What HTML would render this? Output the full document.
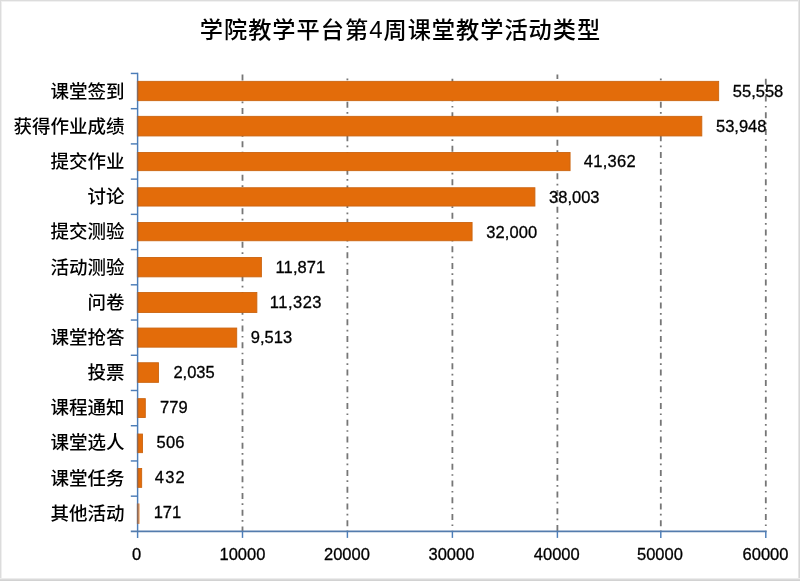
<!DOCTYPE html>
<html lang="zh-CN"><head><meta charset="utf-8"><title>学院教学平台第4周课堂教学活动类型</title>
<style>html,body{margin:0;padding:0;background:#fff}body{width:800px;height:581px;overflow:hidden}svg{display:block}.c{font-family:"Liberation Sans", "Noto Sans CJK SC", sans-serif;font-size:18.5px;font-weight:500;fill:#000}.n{font-family:"Liberation Sans", sans-serif;font-size:16.5px;fill:#000;stroke:#000;stroke-width:0.3px}.t{font-family:"Liberation Sans", "Noto Sans CJK SC", sans-serif;font-size:23.2px;font-weight:500;letter-spacing:1px;fill:#000}</style></head><body>
<svg width="800" height="581" viewBox="0 0 800 581">
<rect x="0" y="0" width="800" height="581" fill="#fff"/>
<rect x="0" y="0" width="800" height="1" fill="#dcdcdc"/>
<rect x="0" y="1" width="800" height="1" fill="#f1f1f1"/>
<rect x="0" y="0" width="1" height="581" fill="#dcdcdc"/>
<rect x="1" y="1" width="1" height="580" fill="#efefef"/>
<rect x="798" y="0" width="1" height="581" fill="#e6e6e6"/>
<rect x="799" y="0" width="1" height="581" fill="#d6d6d6"/>
<rect x="0" y="578" width="800" height="1" fill="#ececec"/>
<rect x="0" y="579" width="800" height="1" fill="#dadada"/>
<rect x="0" y="580" width="800" height="1" fill="#d2d2d2"/>
<line x1="242.5" y1="74.5" x2="242.5" y2="531.4" stroke="#767676" stroke-width="1.8" stroke-dasharray="6 4.4 1.7 4.64" stroke-dashoffset="0.1"/>
<line x1="347.4" y1="74.5" x2="347.4" y2="531.4" stroke="#767676" stroke-width="1.8" stroke-dasharray="6 4.4 1.7 4.64" stroke-dashoffset="6.3"/>
<line x1="452.4" y1="74.5" x2="452.4" y2="531.4" stroke="#767676" stroke-width="1.8" stroke-dasharray="6 4.4 1.7 4.64" stroke-dashoffset="12.5"/>
<line x1="557.4" y1="74.5" x2="557.4" y2="531.4" stroke="#767676" stroke-width="1.8" stroke-dasharray="6 4.4 1.7 4.64" stroke-dashoffset="1.6"/>
<line x1="660.8" y1="74.5" x2="660.8" y2="531.4" stroke="#767676" stroke-width="1.8" stroke-dasharray="6 4.4 1.7 4.64" stroke-dashoffset="6.3"/>
<line x1="765.8" y1="74.5" x2="765.8" y2="531.4" stroke="#767676" stroke-width="1.8" stroke-dasharray="6 4.4 1.7 4.64" stroke-dashoffset="12.5"/>
<g stroke="#4c7db8" stroke-width="1.45" fill="none">
<line x1="137.6" y1="72.75" x2="137.6" y2="537.9"/>
<line x1="130.8" y1="531.4" x2="766.6" y2="531.4" stroke="#547cad" stroke-width="1.8"/>
<line x1="130.8" y1="73.45" x2="137.6" y2="73.45"/>
<line x1="130.8" y1="108.68" x2="137.6" y2="108.68"/>
<line x1="130.8" y1="143.9" x2="137.6" y2="143.9"/>
<line x1="130.8" y1="179.13" x2="137.6" y2="179.13"/>
<line x1="130.8" y1="214.36" x2="137.6" y2="214.36"/>
<line x1="130.8" y1="249.58" x2="137.6" y2="249.58"/>
<line x1="130.8" y1="284.81" x2="137.6" y2="284.81"/>
<line x1="130.8" y1="320.04" x2="137.6" y2="320.04"/>
<line x1="130.8" y1="355.27" x2="137.6" y2="355.27"/>
<line x1="130.8" y1="390.49" x2="137.6" y2="390.49"/>
<line x1="130.8" y1="425.72" x2="137.6" y2="425.72"/>
<line x1="130.8" y1="460.95" x2="137.6" y2="460.95"/>
<line x1="130.8" y1="496.17" x2="137.6" y2="496.17"/>
<line x1="242.5" y1="531.4" x2="242.5" y2="537.9"/>
<line x1="347.4" y1="531.4" x2="347.4" y2="537.9"/>
<line x1="452.4" y1="531.4" x2="452.4" y2="537.9"/>
<line x1="557.4" y1="531.4" x2="557.4" y2="537.9"/>
<line x1="660.8" y1="531.4" x2="660.8" y2="537.9"/>
<line x1="765.8" y1="531.4" x2="765.8" y2="537.9"/>
</g>
<rect x="136.9" y="80.9" width="1.7" height="20.2" fill="#8a6a5c"/>
<rect x="138.6" y="81.35" width="580.06" height="19.3" fill="#e36c0a" stroke="#cb6410" stroke-width="0.9"/>
<rect x="136.9" y="115.9" width="1.7" height="20.5" fill="#8a6a5c"/>
<rect x="138.6" y="116.35" width="563.21" height="19.6" fill="#e36c0a" stroke="#cb6410" stroke-width="0.9"/>
<rect x="136.9" y="152" width="1.7" height="19.1" fill="#8a6a5c"/>
<rect x="138.6" y="152.45" width="431.47" height="18.2" fill="#e36c0a" stroke="#cb6410" stroke-width="0.9"/>
<rect x="136.9" y="187.3" width="1.7" height="19.2" fill="#8a6a5c"/>
<rect x="138.6" y="187.75" width="396.31" height="18.3" fill="#e36c0a" stroke="#cb6410" stroke-width="0.9"/>
<rect x="136.9" y="222" width="1.7" height="19.2" fill="#8a6a5c"/>
<rect x="138.6" y="222.45" width="333.48" height="18.3" fill="#e36c0a" stroke="#cb6410" stroke-width="0.9"/>
<rect x="136.9" y="257" width="1.7" height="20.3" fill="#8a6a5c"/>
<rect x="138.6" y="257.45" width="122.8" height="19.4" fill="#e36c0a" stroke="#cb6410" stroke-width="0.9"/>
<rect x="136.9" y="292.1" width="1.7" height="20.8" fill="#8a6a5c"/>
<rect x="138.6" y="292.55" width="118.26" height="19.9" fill="#e36c0a" stroke="#cb6410" stroke-width="0.9"/>
<rect x="136.9" y="327.6" width="1.7" height="20" fill="#8a6a5c"/>
<rect x="138.6" y="328.05" width="98.12" height="19.1" fill="#e36c0a" stroke="#cb6410" stroke-width="0.9"/>
<rect x="136.9" y="362.3" width="1.7" height="20.5" fill="#8a6a5c"/>
<rect x="138.6" y="362.75" width="19.85" height="19.6" fill="#e36c0a" stroke="#cb6410" stroke-width="0.9"/>
<rect x="136.9" y="398.2" width="1.7" height="19.8" fill="#8a6a5c"/>
<rect x="138.6" y="398.65" width="6.7" height="18.9" fill="#e36c0a" stroke="#cb6410" stroke-width="0.9"/>
<rect x="136.9" y="433.6" width="1.7" height="19.5" fill="#8a6a5c"/>
<rect x="138.6" y="434.05" width="3.85" height="18.6" fill="#e36c0a" stroke="#cb6410" stroke-width="0.9"/>
<rect x="136.9" y="468.1" width="1.7" height="19.7" fill="#8a6a5c"/>
<rect x="138.6" y="468.55" width="3.07" height="18.8" fill="#e36c0a" stroke="#cb6410" stroke-width="0.9"/>
<rect x="136.9" y="503.5" width="1.7" height="20.4" fill="#8a6a5c"/>
<rect x="138.6" y="503.5" width="0.79" height="20.4" fill="#e36c0a"/>
<text class="t" x="400.5" y="37.9" text-anchor="middle">学院教学平台第<tspan font-size="24" font-weight="400">4</tspan>周课堂教学活动类型</text>
<text class="c" x="124.6" y="97.7" text-anchor="end">课堂签到</text>
<text class="c" x="124.6" y="132.87" text-anchor="end">获得作业成绩</text>
<text class="c" x="124.6" y="168.03" text-anchor="end">提交作业</text>
<text class="c" x="124.6" y="203.2" text-anchor="end">讨论</text>
<text class="c" x="124.6" y="238.37" text-anchor="end">提交测验</text>
<text class="c" x="124.6" y="273.54" text-anchor="end">活动测验</text>
<text class="c" x="124.6" y="308.7" text-anchor="end">问卷</text>
<text class="c" x="124.6" y="343.87" text-anchor="end">课堂抢答</text>
<text class="c" x="124.6" y="379.04" text-anchor="end">投票</text>
<text class="c" x="124.6" y="414.2" text-anchor="end">课程通知</text>
<text class="c" x="124.6" y="449.37" text-anchor="end">课堂选人</text>
<text class="c" x="124.6" y="484.54" text-anchor="end">课堂任务</text>
<text class="c" x="124.6" y="519.7" text-anchor="end">其他活动</text>
<text class="n" x="732.81" y="97.3">55,558</text>
<text class="n" x="715.96" y="132.39">53,948</text>
<text class="n" x="583.72" y="167.48" letter-spacing="0.3">41,362</text>
<text class="n" x="549.06" y="202.57">38,003</text>
<text class="n" x="486.23" y="237.66" letter-spacing="0.1">32,000</text>
<text class="n" x="275.55" y="272.75" letter-spacing="0.1">11,871</text>
<text class="n" x="269.81" y="307.84" letter-spacing="0.5">11,323</text>
<text class="n" x="250.87" y="342.93">9,513</text>
<text class="n" x="173.4" y="378.02">2,035</text>
<text class="n" x="160.05" y="413.11">779</text>
<text class="n" x="156.6" y="448.2" letter-spacing="0.2">506</text>
<text class="n" x="154.82" y="483.29" letter-spacing="1.2">432</text>
<text class="n" x="153.69" y="518.38">171</text>
<text class="n" x="136.7" y="559.8" text-anchor="middle">0</text>
<text class="n" x="242.4" y="559.8" text-anchor="middle">10000</text>
<text class="n" x="346.9" y="559.8" text-anchor="middle">20000</text>
<text class="n" x="451.4" y="559.8" text-anchor="middle">30000</text>
<text class="n" x="556.8" y="559.8" text-anchor="middle">40000</text>
<text class="n" x="659.9" y="559.8" text-anchor="middle">50000</text>
<text class="n" x="765.5" y="559.8" text-anchor="middle">60000</text>
</svg></body></html>
